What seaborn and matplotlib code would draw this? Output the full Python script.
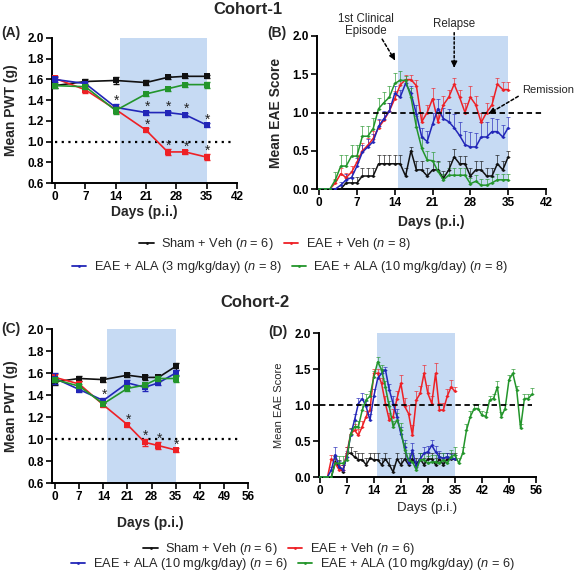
import numpy as np
import pandas as pd
import seaborn as sns
import matplotlib.pyplot as plt
from matplotlib.lines import Line2D

# ---- data ----
# Cohort-1, paw withdrawal threshold (g)
pwt_days_1 = [0, 7, 14, 21, 26, 30, 35]
pwt_sham_1 = [1.54, 1.58, 1.59, 1.57, 1.62, 1.63, 1.63]
pwt_sham_1_err = [0.02, 0.02, 0.03, 0.02, 0.015, 0.015, 0.015]
pwt_eae_1 = [1.61, 1.50, 1.31, 1.11, 0.90, 0.90, 0.85]
pwt_eae_1_err = [0.02, 0.03, 0.03, 0.02, 0.03, 0.02, 0.03]
pwt_ala3_1 = [1.60, 1.56, 1.33, 1.28, 1.28, 1.26, 1.16]
pwt_ala3_1_err = [0.02, 0.02, 0.03, 0.02, 0.02, 0.02, 0.02]
pwt_ala10_1 = [1.54, 1.53, 1.30, 1.46, 1.51, 1.55, 1.55]
pwt_ala10_1_err = [0.02, 0.02, 0.03, 0.02, 0.02, 0.02, 0.03]
sig_eae_1 = [0, 0, 0, 1, 1, 1, 1]
sig_ala3_1 = [0, 0, 1, 1, 1, 1, 1]

# Cohort-1, EAE score, days 0..35
eae_days_1 = list(range(36))
eae_sham_1 = [0, 0, 0, 0, 0, 0.08, 0.08, 0.08, 0.17, 0.17, 0.17, 0.33,
              0.33, 0.33, 0.33, 0.33, 0.17, 0.5, 0.25, 0.25, 0.17, 0.25, 0.25, 0.14,
              0.25, 0.42, 0.33, 0.33, 0.17, 0.25, 0.25, 0.17, 0.17, 0.33, 0.25, 0.42]
eae_sham_1_err = [0, 0, 0, 0, 0, 0.08, 0.08, 0.08, 0.11, 0.11, 0.11, 0.12,
                  0.12, 0.12, 0.12, 0.12, 0.1, 0.05, 0.12, 0.12, 0.1, 0.12, 0.12, 0.1,
                  0.12, 0.1, 0.1, 0.1, 0.1, 0.12, 0.12, 0.1, 0.1, 0.12, 0.12, 0.08]
eae_eae_1 = [0, 0, 0, 0.08, 0.2, 0.15, 0.22, 0.35, 0.5, 0.57, 0.66, 0.8,
             0.9, 1.02, 1.18, 1.36, 1.43, 1.43, 1.35, 0.88, 1.0, 1.18, 0.88, 1.1,
             1.2, 1.37, 1.2, 1.0, 1.2, 1.1, 0.87, 1.0, 1.1, 1.37, 1.3, 1.3]
eae_eae_1_err = [0, 0, 0, 0.05, 0.08, 0.06, 0.08, 0.1, 0.1, 0.1, 0.1, 0.1,
                 0.1, 0.1, 0.1, 0.07, 0.06, 0.06, 0.08, 0.12, 0.1, 0.14, 0.12, 0.12,
                 0.1, 0.08, 0.1, 0.12, 0.14, 0.12, 0.12, 0.12, 0.12, 0.08, 0.1, 0.1]
eae_ala3_1 = [0, 0, 0, 0, 0.05, 0.12, 0.15, 0.3, 0.48, 0.55, 0.62, 0.82,
              0.92, 1.02, 1.25, 1.2, 1.38, 1.25, 0.98, 0.68, 0.62, 0.85, 1.05, 0.92,
              0.88, 0.8, 0.7, 0.58, 0.55, 0.55, 0.68, 0.68, 0.75, 0.75, 0.68, 0.8]
eae_ala3_1_err = [0, 0, 0, 0, 0.04, 0.08, 0.08, 0.1, 0.1, 0.1, 0.1, 0.1,
                  0.1, 0.1, 0.1, 0.1, 0.06, 0.1, 0.12, 0.12, 0.14, 0.14, 0.12, 0.14,
                  0.16, 0.18, 0.18, 0.18, 0.2, 0.18, 0.2, 0.2, 0.18, 0.16, 0.16, 0.14]
eae_ala10_1 = [0, 0, 0, 0.12, 0.3, 0.3, 0.43, 0.43, 0.69, 0.69, 0.79, 1.05,
               1.13, 1.2, 1.38, 1.42, 1.42, 1.2, 0.81, 0.53, 0.38, 0.37, 0.23, 0.12,
               0.18, 0.18, 0.18, 0.18, 0.07, 0.1, 0.05, 0.05, 0.08, 0.12, 0.12, 0.12]
eae_ala10_1_err = [0, 0, 0, 0.1, 0.14, 0.14, 0.14, 0.14, 0.14, 0.14, 0.14, 0.14,
                   0.14, 0.14, 0.14, 0.12, 0.06, 0.12, 0.14, 0.14, 0.12, 0.12, 0.12, 0.08,
                   0.1, 0.1, 0.1, 0.1, 0.08, 0.08, 0.08, 0.08, 0.08, 0.08, 0.08, 0.08]

# Cohort-2, paw withdrawal threshold (g)
pwt_days_2 = [0, 7, 14, 21, 26, 30, 35]
pwt_sham_2 = [1.52, 1.55, 1.54, 1.58, 1.56, 1.56, 1.66]
pwt_sham_2_err = [0.03, 0.02, 0.02, 0.02, 0.02, 0.02, 0.03]
pwt_eae_2 = [1.56, 1.50, 1.31, 1.13, 0.97, 0.94, 0.90]
pwt_eae_2_err = [0.03, 0.03, 0.02, 0.02, 0.03, 0.03, 0.02]
pwt_ala10a_2 = [1.55, 1.45, 1.35, 1.51, 1.47, 1.51, 1.60]
pwt_ala10a_2_err = [0.05, 0.02, 0.02, 0.03, 0.03, 0.02, 0.03]
pwt_ala10b_2 = [1.54, 1.48, 1.32, 1.46, 1.49, 1.55, 1.55]
pwt_ala10b_2_err = [0.02, 0.02, 0.02, 0.02, 0.02, 0.02, 0.03]
sig_eae_2 = [0, 0, 0, 1, 1, 1, 1]
sig_ala10a_2 = [0, 0, 1, 0, 0, 0, 0]

# Cohort-2, EAE score
eae_days_2 = list(range(36))
eae_days_2_long = list(range(56))
eae_sham_2 = [0, 0, 0, 0, 0.21, 0.14, 0.07, 0.33, 0.33, 0.28, 0.24, 0.24,
              0.17, 0.26, 0.24, 0.24, 0.17, 0.25, 0.17, 0.07, 0.25, 0.17, 0.25, 0.17,
              0.25, 0.17, 0.25, 0.17, 0.25, 0.25, 0.17, 0.25, 0.17, 0.25, 0.25, 0.25]
eae_sham_2_err = [0, 0, 0, 0, 0.08, 0.1, 0.1, 0.08, 0.08, 0.08, 0.1, 0.1,
                  0.1, 0.08, 0.1, 0.1, 0.1, 0.08, 0.1, 0.1, 0.08, 0.1, 0.08, 0.1,
                  0.08, 0.1, 0.08, 0.1, 0.08, 0.08, 0.1, 0.08, 0.1, 0.08, 0.08, 0.08]
eae_eae_2 = [0, 0, 0, 0.25, 0.19, 0.1, 0.1, 0.33, 0.6, 0.65, 0.58, 0.7,
             0.84, 0.93, 1.44, 1.44, 1.3, 1.02, 0.79, 0.84, 1.09, 1.3, 0.98, 0.88,
             0.58, 1.07, 1.16, 1.44, 1.16, 1.02, 1.44, 0.93, 0.93, 1.12, 1.25, 1.19]
eae_eae_2_err = [0, 0, 0, 0.06, 0.06, 0.06, 0.06, 0.08, 0.08, 0.08, 0.08, 0.08,
                 0.08, 0.08, 0.06, 0.06, 0.08, 0.1, 0.1, 0.1, 0.1, 0.12, 0.12, 0.12,
                 0.14, 0.12, 0.1, 0.12, 0.12, 0.1, 0.14, 0.1, 0.1, 0.1, 0.1, 0.06]
eae_ala10a_2 = [0, 0, 0, 0.1, 0.31, 0.14, 0.1, 0.28, 0.58, 0.79, 1.02, 1.09,
                0.98, 0.79, 1.12, 1.37, 1.44, 1.49, 1.21, 1.02, 0.84, 0.6, 0.42, 0.19,
                0.37, 0.14, 0.25, 0.33, 0.35, 0.44, 0.35, 0.28, 0.26, 0.28, 0.26, 0.25]
eae_ala10a_2_err = [0, 0, 0, 0.04, 0.1, 0.08, 0.06, 0.08, 0.08, 0.08, 0.08, 0.08,
                    0.08, 0.08, 0.1, 0.08, 0.06, 0.04, 0.08, 0.1, 0.1, 0.1, 0.1, 0.08,
                    0.1, 0.08, 0.08, 0.08, 0.08, 0.08, 0.08, 0.08, 0.08, 0.06, 0.06, 0.06]
eae_ala10b_2 = [0, 0, 0, 0, 0.19, 0.19, 0.19, 0.24,
                0.6, 0.7, 0.7, 0.93, 1.07, 1.12, 1.39, 1.6,
                1.49, 1.25, 0.98, 0.7, 0.79, 0.65, 0.37, 0.24,
                0.21, 0.1, 0.24, 0.24, 0.19, 0.21, 0.21, 0.19,
                0.24, 0.19, 0.28, 0.31, 0.19, 0.33, 0.65, 0.84,
                0.95, 0.95, 0.86, 0.84, 1.07, 1.09, 1.25, 0.84,
                0.95, 1.35, 1.44, 1.21, 0.68, 1.09, 1.09, 1.15]
eae_ala10b_2_err = [0, 0, 0, 0, 0.1, 0.1, 0.1, 0.1,
                    0.08, 0.08, 0.08, 0.08, 0.08, 0.08, 0.08, 0.06,
                    0.06, 0.08, 0.08, 0.08, 0.1, 0.1, 0.1, 0.1,
                    0.1, 0.1, 0.1, 0.1, 0.1, 0.1, 0.1, 0.1,
                    0.1, 0.1, 0.1, 0.1, 0.08, 0.08, 0.08, 0.08,
                    0.06, 0.06, 0.06, 0.06, 0.06, 0.06, 0.08, 0.06,
                    0.06, 0.06, 0.06, 0.06, 0.06, 0.06, 0.06, 0.08]

labels_1 = ["Sham + Veh ($\\it{n}$ = 6)", "EAE + Veh ($\\it{n}$ = 8)",
            "EAE + ALA (3 mg/kg/day) ($\\it{n}$ = 8)", "EAE + ALA (10 mg/kg/day) ($\\it{n}$ = 8)"]
labels_2 = ["Sham + Veh ($\\it{n}$ = 6)", "EAE + Veh ($\\it{n}$ = 6)",
            "EAE + ALA (10 mg/kg/day) ($\\it{n}$ = 6)", "EAE + ALA (10 mg/kg/day) ($\\it{n}$ = 6)"]

# ---- style ----
sns.set_style("ticks")
plt.rcParams['font.family'] = ['Liberation Sans', 'DejaVu Sans']
plt.rcParams['mathtext.fontset'] = 'custom'
plt.rcParams['mathtext.it'] = 'Liberation Sans:italic'
plt.rcParams['mathtext.rm'] = 'Liberation Sans'

BLACK = '#111111'
RED = '#ee2025'
BLUE = '#2226b8'
GREEN = '#23952b'
SHADE = '#c6daf3'
colors = [BLACK, RED, BLUE, GREEN]

fig = plt.figure(figsize=(5.76, 5.81), dpi=100)
W, H = 576, 581


def add_ax(left, right, top, bottom):
    return fig.add_axes([left / W, 1 - bottom / H, (right - left) / W, (bottom - top) / H])


axA = add_ax(52, 237, 38, 183)
axB = add_ax(317, 546, 36, 189)
axC = add_ax(52, 248, 329, 483)
axD = add_ax(319, 536, 333, 477)


def style(ax, xlim, ylim, xticks, yticks):
    ax.set_xlim(*xlim)
    ax.set_ylim(*ylim)
    ax.set_xticks(xticks)
    ax.set_yticks(yticks)
    ax.set_yticklabels([f"{t:.1f}" for t in yticks])
    sns.despine(ax=ax)
    for s in ['left', 'bottom']:
        ax.spines[s].set_linewidth(1.4)
        ax.spines[s].set_color('black')
    ax.tick_params(width=1.2, length=4, labelsize=8.5, pad=2, colors='black')
    for lab in ax.get_xticklabels() + ax.get_yticklabels():
        lab.set_fontweight('bold')


def pwt_panel(ax, days, series, errs, xmax, shade):
    ax.axvspan(shade[0], shade[1], color=SHADE, lw=0, zorder=0)
    ax.hlines(1.0, 0, xmax, colors='black', linestyles=(0, (1, 2)), lw=1.6, zorder=1)
    for vals, err, c in zip(series, errs, colors):
        sns.lineplot(x=days, y=vals, color=c, marker='s', markersize=4,
                     markeredgewidth=0, lw=1.2, errorbar=None, ax=ax, zorder=3)
        ax.errorbar(days, vals, yerr=err, fmt='none', ecolor=c, elinewidth=1,
                    capsize=2, capthick=1, zorder=3)


def score_panel(ax, days_list, series, errs, shade):
    ax.axvspan(shade[0], shade[1], color=SHADE, lw=0, zorder=0)
    for d, vals, err, c in zip(days_list, series, errs, colors):
        sns.lineplot(x=d, y=vals, color=c, marker='o', markersize=2,
                     markeredgewidth=0, lw=1.1, errorbar=None, ax=ax, zorder=3)
        ax.errorbar(d, vals, yerr=[np.zeros(len(err)), err], fmt='none', ecolor=c,
                    elinewidth=0.6, capsize=1.5, capthick=0.6, alpha=0.75, zorder=2)


def stars(ax, days, vals, err, sig):
    for d, v, e, s in zip(days, vals, err, sig):
        if s:
            ax.text(d + 0.3, v + e - 0.035, '*', ha='center', va='bottom',
                    fontsize=10, color='#222222', zorder=5)


# Panel A
pwt_panel(axA, pwt_days_1, [pwt_sham_1, pwt_eae_1, pwt_ala3_1, pwt_ala10_1],
          [pwt_sham_1_err, pwt_eae_1_err, pwt_ala3_1_err, pwt_ala10_1_err], 40.5, (15, 35))
stars(axA, pwt_days_1, pwt_eae_1, pwt_eae_1_err, sig_eae_1)
stars(axA, pwt_days_1, pwt_ala3_1, pwt_ala3_1_err, sig_ala3_1)
style(axA, (-0.7, 42), (0.6, 2.0), range(0, 43, 7), np.arange(0.6, 2.01, 0.2))

# Panel B
score_panel(axB, [eae_days_1] * 4, [eae_sham_1, eae_eae_1, eae_ala3_1, eae_ala10_1],
            [eae_sham_1_err, eae_eae_1_err, eae_ala3_1_err, eae_ala10_1_err], (14.6, 35))
axB.hlines(1.0, 0, 41.6, colors='black', linestyles=(0, (3, 2)), lw=1.3, zorder=4)
style(axB, (-0.4, 42), (0, 2.0), range(0, 43, 7), np.arange(0, 2.01, 0.5))

# Panel C
pwt_panel(axC, pwt_days_2, [pwt_sham_2, pwt_eae_2, pwt_ala10a_2, pwt_ala10b_2],
          [pwt_sham_2_err, pwt_eae_2_err, pwt_ala10a_2_err, pwt_ala10b_2_err], 54, (15, 35))
stars(axC, pwt_days_2, pwt_eae_2, pwt_eae_2_err, sig_eae_2)
stars(axC, pwt_days_2, pwt_ala10a_2, pwt_ala10a_2_err, sig_ala10a_2)
style(axC, (-0.9, 56), (0.6, 2.0), range(0, 57, 7), np.arange(0.6, 2.01, 0.2))

# Panel D
score_panel(axD, [eae_days_2, eae_days_2, eae_days_2, eae_days_2_long],
            [eae_sham_2, eae_eae_2, eae_ala10a_2, eae_ala10b_2],
            [eae_sham_2_err, eae_eae_2_err, eae_ala10a_2_err, eae_ala10b_2_err], (14.8, 35))
axD.hlines(1.0, 0, 55, colors='black', linestyles=(0, (3, 2)), lw=1.3, zorder=4)
style(axD, (-0.2, 56), (0, 2.0), range(0, 57, 7), np.arange(0, 2.01, 0.5))

# axis labels
for ax, ylab, yx, xy, bold, fs in [(axA, 'Mean PWT (g)', -0.184, -0.152, True, 10),
                                   (axB, 'Mean EAE Score', -0.148, -0.17, True, 10),
                                   (axC, 'Mean PWT (g)', -0.173, -0.214, True, 10),
                                   (axD, 'Mean EAE Score', -0.161, -0.174, False, 8.5)]:
    w = 'bold' if bold else 'normal'
    ax.set_ylabel(ylab, fontsize=fs if bold else 8, fontweight=w)
    ax.set_xlabel('Days (p.i.)', fontsize=fs if bold else 9.5, fontweight=w)
    ax.yaxis.set_label_coords(yx, 0.5)
    ax.xaxis.set_label_coords(0.5, xy)

# annotations in B
ann = dict(annotation_clip=False)
axB.text(8.7, 2.14, '1st Clinical\nEpisode', ha='center', va='center', fontsize=8.3,
         linespacing=1.0, clip_on=False)
axB.annotate('', xy=(13.7, 1.72), xytext=(11.4, 1.99),
             arrowprops=dict(arrowstyle='-', ls=(0, (2, 1.5)), lw=1.1, color='black'), **ann)
axB.annotate('', xy=(14.3, 1.65), xytext=(13.6, 1.74),
             arrowprops=dict(arrowstyle='-|>', lw=1, color='black', mutation_scale=9), **ann)
axB.text(25.0, 2.16, 'Relapse', ha='center', va='center', fontsize=8.3, clip_on=False)
axB.annotate('', xy=(25.0, 1.64), xytext=(25.0, 2.08),
             arrowprops=dict(arrowstyle='-', ls=(0, (1.5, 1.5)), lw=1.1, color='black'), **ann)
axB.annotate('', xy=(25.0, 1.55), xytext=(25.0, 1.66),
             arrowprops=dict(arrowstyle='-|>', lw=1, color='black', mutation_scale=9), **ann)
axB.text(37.6, 1.29, 'Remission', ha='left', va='center', fontsize=8.0, clip_on=False)
axB.annotate('', xy=(31.8, 1.0), xytext=(37.3, 1.23),
             arrowprops=dict(arrowstyle='-', ls=(0, (2, 1.5)), lw=1.1, color='black'), **ann)
axB.annotate('', xy=(30.9, 0.97), xytext=(32.0, 1.01),
             arrowprops=dict(arrowstyle='-|>', lw=1, color='black', mutation_scale=9), **ann)

# titles and panel letters
fig.text(248 / W, 1 - 10 / H, 'Cohort-1', ha='center', va='center', fontsize=12, fontweight='bold')
fig.text(255 / W, 1 - 303 / H, 'Cohort-2', ha='center', va='center', fontsize=12, fontweight='bold')
for lab, x, y in [('(A)', 1, 33), ('(B)', 267, 33), ('(C)', 1, 329), ('(D)', 268, 332)]:
    fig.text(x / W, 1 - y / H, lab, ha='left', va='center', fontsize=10, fontweight='bold')


# legends
def legend_row(labels, cols, cx, cy):
    handles = [Line2D([], [], color=c, lw=1.3, marker='o', markersize=2, markeredgewidth=0)
               for c in cols]
    fig.legend(handles, labels, loc='center', bbox_to_anchor=(cx / W, 1 - cy / H), ncol=2,
               frameon=False, fontsize=9.2, handlelength=1.1, handletextpad=0.6,
               columnspacing=0.8, borderpad=0, borderaxespad=0)


legend_row(labels_1[:2], colors[:2], 275, 244)
legend_row(labels_1[2:], colors[2:], 290, 267)
legend_row(labels_2[:2], colors[:2], 279, 549)
legend_row(labels_2[2:], colors[2:], 293, 564)

fig.savefig('out.png', dpi=100)
